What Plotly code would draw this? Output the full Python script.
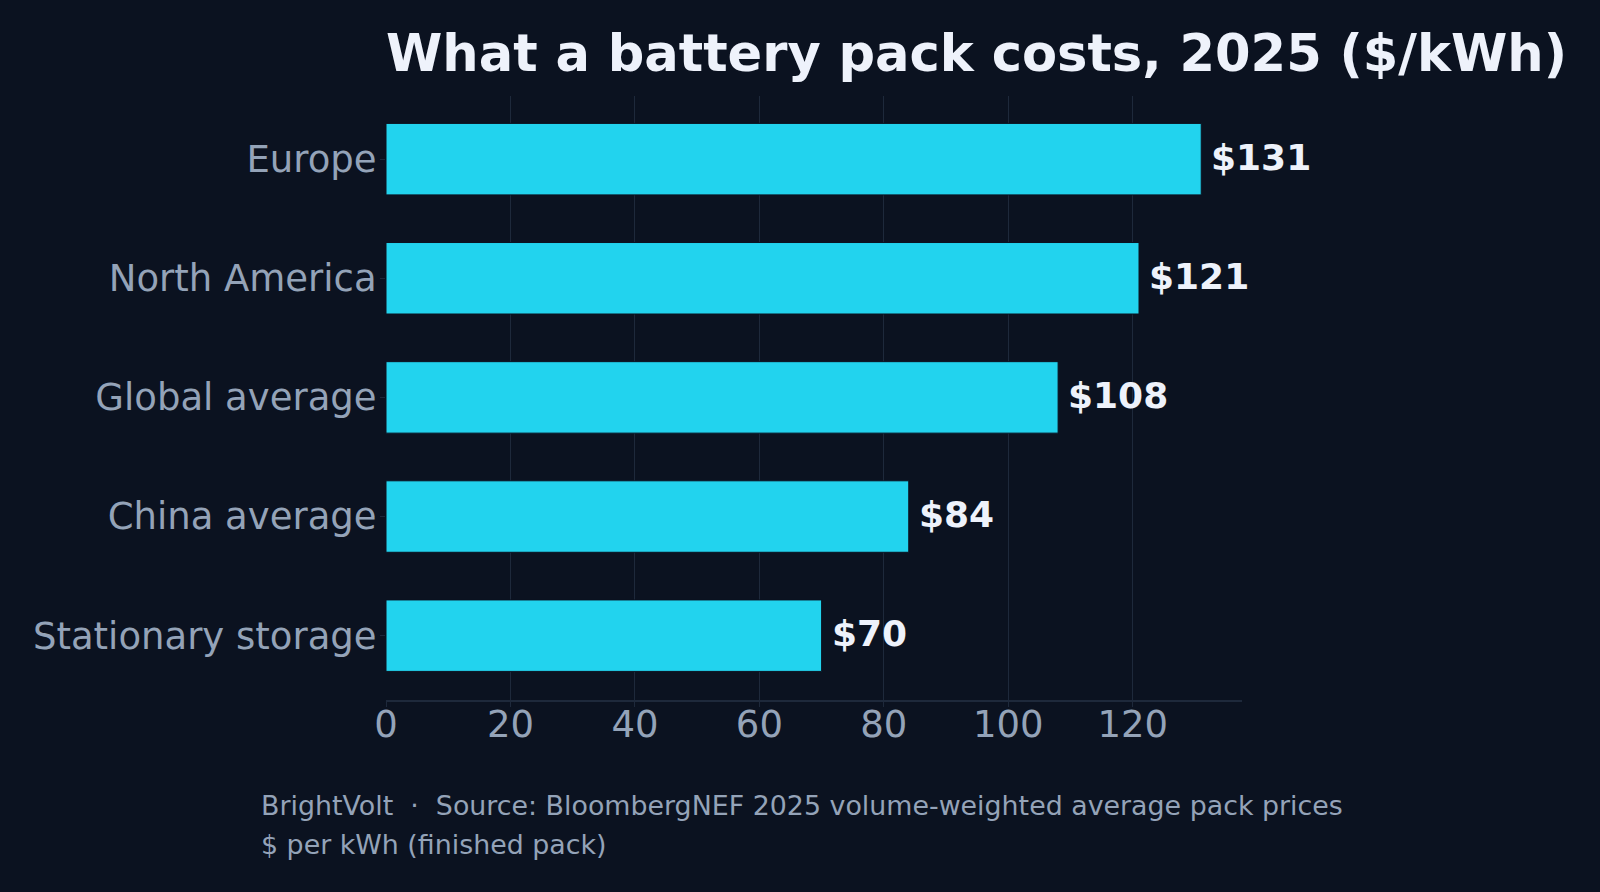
import plotly.graph_objects as go

categories = ["Stationary storage", "China average", "Global average", "North America", "Europe"]
values = [70, 84, 108, 121, 131]
labels = ["$70", "$84", "$108", "$121", "$131"]
x_ticks = [0, 20, 40, 60, 80, 100, 120]

BG = "#0b1220"
BAR = "#22d3ee"
TXT = "#eef2fb"
MUTED = "#94a3b8"
GRID = "#1e293b"
FONT = "DejaVu Sans"

fig = go.Figure()
fig.add_trace(go.Bar(
    y=categories, x=values, orientation="h",
    marker=dict(color=BAR, line=dict(color=BG, width=1)),
    width=0.6,
    hoverinfo="skip",
))

W, H = 1600, 892
L, R, T, B = 386, 358, 96, 192
ph = H - T - B
pw = W - L - R

annotations = [
    dict(
        text="<b>%s</b>" % lab, x=v, y=c, xref="x", yref="y",
        xanchor="left", yanchor="middle", xshift=8, yshift=2, showarrow=False,
        font=dict(family=FONT, size=36, color=TXT),
    )
    for c, v, lab in zip(categories, values, labels)
]
annotations += [
    dict(
        text="BrightVolt  ·  Source: BloombergNEF 2025 volume-weighted average pack prices",
        xref="paper", yref="paper",
        x=(259 - L) / pw, y=(T + ph - 823) / ph,
        xanchor="left", yanchor="bottom", showarrow=False,
        font=dict(family=FONT, size=26.85, color=MUTED),
    ),
    dict(
        text="$ per kWh (finished pack)",
        xref="paper", yref="paper",
        x=(259 - L) / pw, y=(T + ph - 862) / ph,
        xanchor="left", yanchor="bottom", showarrow=False,
        font=dict(family=FONT, size=26.85, color=MUTED),
    ),
]

fig.update_layout(
    width=W, height=H,
    paper_bgcolor=BG, plot_bgcolor=BG,
    margin=dict(l=L, r=R, t=T, b=B, autoexpand=False),
    showlegend=False,
    bargap=0.4,
    font=dict(family=FONT, color=MUTED),
    title=dict(
        text="<b>What a battery pack costs, 2025 ($/kWh)</b>",
        font=dict(family=FONT, size=51.1, color=TXT),
        x=L / W, xanchor="left", xref="container",
        y=1 - 71 / H, yanchor="bottom", yref="container",
    ),
    xaxis=dict(
        range=[0, 137.55],
        tickvals=x_ticks,
        ticktext=[str(v) for v in x_ticks],
        tickfont=dict(family=FONT, size=37, color=MUTED),
        showgrid=True, gridcolor=GRID, gridwidth=1,
        zeroline=False,
        showline=True, linecolor=GRID, linewidth=2,
        ticks="outside", ticklen=5, tickcolor=GRID, tickwidth=1,
        ticklabelstandoff=-14,
        fixedrange=True,
    ),
    yaxis=dict(
        type="category",
        categoryorder="array", categoryarray=categories,
        range=[-0.54, 4.53],
        tickfont=dict(family=FONT, size=37, color=MUTED),
        showgrid=False, zeroline=False, showline=False,
        ticks="outside", ticklen=5, tickcolor=GRID, tickwidth=1,
        ticklabelstandoff=-4,
        fixedrange=True,
    ),
    annotations=annotations,
)

fig.write_html(
    "out.html",
    config={"displayModeBar": False},
    post_script="document.body.style.margin='0';document.body.style.background='%s';" % BG,
)
